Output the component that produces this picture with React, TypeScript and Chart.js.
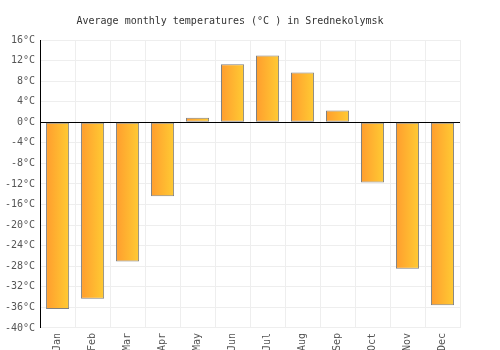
import React, { useEffect, useRef } from "react";
import { Chart, registerables } from "chart.js";

Chart.register(...registerables);

const months = ["Jan", "Feb", "Mar", "Apr", "May", "Jun", "Jul", "Aug", "Sep", "Oct", "Nov", "Dec"];
const temps = [-36.3, -34.3, -27.1, -14.4, 0.9, 11.3, 13.0, 9.7, 2.3, -11.7, -28.5, -35.6];
const yMin = -40;
const yMax = 16;
const yStep = 4;
const title = "Average monthly temperatures (°C ) in Srednekolymsk";

const FONT = "'DejaVu Sans Mono', monospace";
const BAR_PCT = 0.66;

export default function App() {
  const ref = useRef<HTMLCanvasElement | null>(null);
  useEffect(() => {
    if (!ref.current) return;
    const chart = new Chart(ref.current, {
      type: "bar",
      data: {
        labels: months,
        datasets: [
          {
            data: temps,
            backgroundColor: (c: any) => {
              const ch = c.chart;
              const xs = ch.scales && ch.scales.x;
              if (!xs || !ch.chartArea || c.dataIndex === undefined) return "#ffb030";
              const x = xs.getPixelForValue(c.dataIndex);
              const w = (xs.width / months.length) * BAR_PCT;
              const g = ch.ctx.createLinearGradient(x - w / 2, 0, x + w / 2, 0);
              g.addColorStop(0, "#ff9d2e");
              g.addColorStop(1, "#ffcb33");
              return g;
            },
            borderColor: "#808080",
            borderWidth: 1,
            borderSkipped: false,
            barPercentage: BAR_PCT,
            categoryPercentage: 1,
          },
        ],
      },
      options: {
        animation: false,
        responsive: false,
        layout: { padding: { left: 0, right: 40, top: 0, bottom: -6 } },
        plugins: {
          legend: { display: false },
          tooltip: { enabled: false },
          title: {
            display: true,
            text: title,
            color: "#333",
            font: { family: FONT, size: 10, weight: "normal" },
            padding: { top: 15, bottom: 13 },
          },
        },
        scales: {
          x: {
            grid: { color: "#eeeeee", offset: true, drawTicks: false },
            border: { color: "#eeeeee" },
            ticks: {
              color: "#555",
              font: { family: FONT, size: 10 },
              maxRotation: 90,
              minRotation: 90,
              padding: 5,
            },
          },
          y: {
            min: yMin,
            max: yMax,
            grid: {
              color: (c: any) => (c.tick && c.tick.value === 0 ? "#000000" : "#eeeeee"),
              drawTicks: false,
            },
            border: { color: "#000000" },
            ticks: {
              stepSize: yStep,
              color: "#555",
              font: { family: FONT, size: 10 },
              padding: 5,
              callback: (v: any) => v + "°C",
            },
          },
        },
      },
    });
    return () => chart.destroy();
  }, []);
  return (
    <div style={{ position: "absolute", left: 0, top: 0, width: 500, height: 350, background: "#fff" }}>
      <canvas ref={ref} width={500} height={350} style={{ width: 500, height: 350 }} />
    </div>
  );
}
